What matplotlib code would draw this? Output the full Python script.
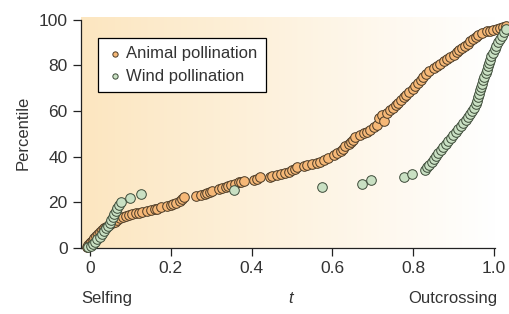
import numpy as np
import matplotlib
matplotlib.use("Agg")
import matplotlib.pyplot as plt

plt.rcParams['font.family'] = ['Liberation Sans', 'DejaVu Sans']

# Animal pollination: outcrossing rate t vs percentile
animal_t = [-0.008, -0.004, 0.0, 0.004, 0.007, 0.011, 0.015, 0.019, 0.024, 0.029,
            0.035, 0.041, 0.048, 0.056, 0.062, 0.068, 0.074, 0.081, 0.089, 0.097,
            0.105, 0.114, 0.122, 0.130, 0.142, 0.151, 0.160, 0.167, 0.175, 0.190,
            0.200, 0.206, 0.212, 0.222, 0.228, 0.233, 0.262, 0.276, 0.286, 0.291,
            0.297, 0.303, 0.320, 0.328, 0.336, 0.342, 0.348, 0.358, 0.369, 0.375,
            0.381, 0.405, 0.414, 0.422, 0.445, 0.451, 0.462, 0.472, 0.482, 0.492,
            0.500, 0.507, 0.513, 0.529, 0.537, 0.550, 0.562, 0.570, 0.579, 0.590,
            0.603, 0.612, 0.620, 0.626, 0.632, 0.640, 0.645, 0.651, 0.657, 0.668,
            0.677, 0.686, 0.694, 0.703, 0.710, 0.714, 0.722, 0.727, 0.735, 0.742,
            0.750, 0.756, 0.762, 0.769, 0.776, 0.782, 0.790, 0.798, 0.805, 0.812,
            0.818, 0.825, 0.832, 0.840, 0.850, 0.858, 0.866, 0.875, 0.883, 0.891,
            0.900, 0.907, 0.914, 0.920, 0.927, 0.934, 0.941, 0.948, 0.955, 0.961,
            0.970, 0.982, 0.990, 0.998, 1.007, 1.015, 1.022, 1.028]
animal_p = [0.5, 1.3, 2.0, 2.8, 3.5, 4.3, 5.1, 6.2, 7.0, 7.8,
            8.6, 9.4, 10.2, 10.9, 11.6, 12.4, 13.0, 13.7, 14.1, 14.5,
            14.9, 15.2, 15.4, 15.7, 16.2, 16.7, 17.0, 17.3, 17.9, 18.4,
            18.9, 19.3, 19.8, 20.6, 21.4, 22.2, 22.8, 23.1, 23.5, 24.1,
            24.6, 25.1, 25.7, 26.2, 26.7, 27.1, 27.6, 28.2, 28.8, 29.1,
            29.4, 29.8, 30.3, 31.0, 31.3, 31.7, 32.1, 32.5, 33.0, 33.5,
            34.1, 34.8, 35.6, 36.0, 36.4, 36.8, 37.2, 37.8, 38.6, 39.5,
            40.8, 41.6, 42.4, 43.5, 44.6, 45.4, 46.3, 47.5, 48.8, 49.6,
            50.3, 51.0, 51.8, 52.8, 54.0, 57.0, 58.3, 55.8, 59.2, 60.3,
            61.5, 62.5, 63.5, 64.7, 66.0, 67.0, 68.3, 69.8, 71.0, 72.3,
            73.5, 75.0, 76.0, 77.3, 78.6, 79.6, 80.6, 81.7, 82.7, 83.6,
            84.6, 85.6, 86.6, 87.6, 88.6, 89.5, 90.5, 91.5, 92.5, 93.4,
            94.1, 94.9, 95.2, 95.6, 96.0, 96.4, 96.8, 97.2]

# Wind pollination
wind_t = [-0.005, 0.002, 0.007, 0.012, 0.018, 0.024, 0.030, 0.036, 0.041, 0.045,
          0.049, 0.053, 0.057, 0.061, 0.064, 0.068, 0.072, 0.076, 0.099, 0.126,
          0.356, 0.573, 0.674, 0.696, 0.776, 0.797, 0.830, 0.835, 0.840, 0.846,
          0.852, 0.857, 0.862, 0.868, 0.874, 0.880, 0.886, 0.892, 0.898, 0.905,
          0.911, 0.918, 0.924, 0.930, 0.935, 0.940, 0.945, 0.950, 0.954, 0.957,
          0.960, 0.963, 0.966, 0.968, 0.971, 0.973, 0.976, 0.979, 0.981, 0.984,
          0.987, 0.990, 0.993, 0.997, 1.001, 1.005, 1.010, 1.015, 1.020, 1.025,
          1.029]
wind_p = [0.3, 1.0, 1.8, 2.8, 3.8, 5.0, 6.2, 7.5, 8.6, 9.8,
          11.0, 12.3, 13.6, 15.0, 16.2, 17.5, 18.8, 20.0, 22.0, 23.7,
          25.3, 26.8, 28.2, 29.8, 31.2, 32.6, 34.0, 35.3, 36.5, 37.8,
          39.0, 40.3, 41.6, 43.0, 44.3, 45.6, 47.0, 48.2, 49.5, 50.8,
          52.2, 53.5, 54.8, 56.0, 57.4, 58.7, 60.0, 61.5, 63.0, 64.5,
          66.0, 67.5, 69.0, 70.5, 72.0, 73.5, 75.0, 76.5, 78.0, 79.5,
          81.0, 82.5, 84.0, 85.5, 87.0, 88.5, 90.0, 91.5, 93.0, 94.5,
          96.0]

xticks = [0, 0.2, 0.4, 0.6, 0.8, 1.0]
xticklabels = ['0', '0.2', '0.4', '0.6', '0.8', '1.0']
yticks = [0, 20, 40, 60, 80, 100]

txt = '#333333'

fig = plt.figure(figsize=(5.09, 3.14), dpi=100)
ax = fig.add_axes([0.159, 0.21, 0.8135, 0.735])
ax.set_xlim(-0.022, 1.002)
ax.set_ylim(0, 101)

# warm gradient background, fading to white on the right
grad = np.linspace(0, 1, 256)[None, :]
bg = np.zeros((2, 256, 3))
left = np.array([252, 230, 192]) / 255
right = np.array([255, 255, 255]) / 255
for i in range(3):
    bg[:, :, i] = left[i] + (right[i] - left[i]) * grad
ax.imshow(bg, extent=[-0.022, 1.002, 0, 101], aspect='auto', zorder=0)

ax.scatter(animal_t, animal_p, s=48, c='#f6b877', edgecolors='#4a3a26',
           linewidths=0.7, zorder=3, clip_on=False, label='Animal pollination')
ax.scatter(wind_t, wind_p, s=48, c='#c9e0c3', edgecolors='#3c4a38',
           linewidths=0.7, zorder=4, clip_on=False, label='Wind pollination')

for s in ['top', 'right']:
    ax.spines[s].set_visible(False)
for s in ['left', 'bottom']:
    ax.spines[s].set_linewidth(0.9)
    ax.spines[s].set_color('#222222')
ax.spines['left'].set_bounds(0, 100)

ax.set_xticks(xticks)
ax.set_xticklabels(xticklabels)
ax.set_yticks(yticks)
ax.tick_params(direction='out', length=6, width=0.9, labelsize=12.5,
               colors='#222222', labelcolor=txt)

ax.set_ylabel('Percentile', fontsize=12, labelpad=6, color=txt)
fig.text(0.16, 0.035, 'Selfing', fontsize=12, ha='left', color=txt)
fig.text(0.57, 0.035, 't', fontsize=12, ha='center', style='italic', color=txt)
fig.text(0.977, 0.035, 'Outcrossing', fontsize=12, ha='right', color=txt)

leg = ax.legend(loc='upper left', bbox_to_anchor=(0.041, 0.91), fontsize=12,
                markerscale=0.55, handletextpad=0.2, borderpad=0.5,
                labelspacing=0.45, fancybox=False, frameon=True,
                borderaxespad=0, handlelength=1.0, labelcolor=txt)
leg.get_frame().set_edgecolor('black')
leg.get_frame().set_linewidth(0.9)
leg.get_frame().set_facecolor('white')
leg.get_frame().set_alpha(1)

fig.savefig('out.png', dpi=100)
